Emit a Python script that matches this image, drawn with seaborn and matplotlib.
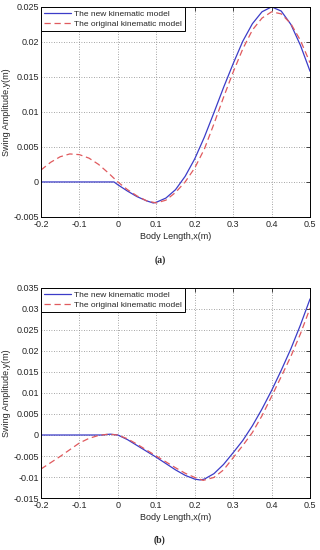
import matplotlib
matplotlib.use("Agg")
import matplotlib.pyplot as plt
import seaborn as sns
import pandas as pd
from matplotlib.ticker import FormatStrFormatter

# ── Panel (a) ─────────────────────────────────────────────────────────────────
a_new_x = [-0.2, -0.1, -0.01, 0.0, 0.025, 0.05, 0.075, 0.092, 0.1, 0.125,
           0.15, 0.175, 0.2, 0.225, 0.25, 0.275, 0.3, 0.325, 0.35, 0.375,
           0.4, 0.425, 0.45, 0.475, 0.5]
a_new_y = [0.0, 0.0, 0.0, -0.0004, -0.0013, -0.0021, -0.0027, -0.003, -0.0029,
           -0.0023, -0.0011, 0.0008, 0.0033, 0.0064, 0.0099, 0.0135, 0.0169,
           0.0201, 0.0226, 0.0243, 0.025, 0.0244, 0.0225, 0.0195, 0.0158]

a_orig_x = [-0.2, -0.175, -0.15, -0.125, -0.1, -0.075, -0.05, -0.025, 0.0,
            0.025, 0.05, 0.075, 0.1, 0.125, 0.15, 0.175, 0.2, 0.225, 0.25,
            0.275, 0.3, 0.325, 0.35, 0.375, 0.4, 0.425, 0.45, 0.475, 0.5]
a_orig_y = [0.0017, 0.0028, 0.0036, 0.004, 0.0039, 0.0034, 0.0025, 0.0013,
            0.0, -0.0011, -0.002, -0.0027, -0.003, -0.0026, -0.0015, 0.0,
            0.002, 0.0047, 0.0083, 0.0121, 0.0157, 0.019, 0.0217, 0.0234,
            0.0243, 0.024, 0.0226, 0.0202, 0.017]

# ── Panel (b) ─────────────────────────────────────────────────────────────────
b_new_x = [-0.2, -0.1, -0.04, -0.02, 0.0, 0.025, 0.05, 0.075, 0.1, 0.125,
           0.15, 0.175, 0.2, 0.214, 0.225, 0.25, 0.275, 0.3, 0.325, 0.35,
           0.375, 0.4, 0.425, 0.45, 0.475, 0.5]
b_new_y = [0.0, 0.0, 0.0, 0.0002, 0.0, -0.0011, -0.0025, -0.0039, -0.0053,
           -0.0068, -0.0083, -0.0096, -0.0105, -0.0107, -0.0105, -0.0092,
           -0.007, -0.0042, -0.0013, 0.0022, 0.0062, 0.0106, 0.0154, 0.0205,
           0.0262, 0.0324]

b_orig_x = [-0.2, -0.175, -0.15, -0.125, -0.1, -0.075, -0.05, -0.025, 0.0,
            0.025, 0.05, 0.075, 0.1, 0.125, 0.15, 0.175, 0.2, 0.222, 0.25,
            0.275, 0.3, 0.325, 0.35, 0.375, 0.4, 0.425, 0.45, 0.475, 0.5]
b_orig_y = [-0.0081, -0.0066, -0.0051, -0.0035, -0.0019, -0.0008, -0.0001,
            0.0002, 0.0, -0.0009, -0.0022, -0.0036, -0.005, -0.0064, -0.0078,
            -0.0091, -0.0101, -0.0108, -0.0101, -0.0083, -0.0054, -0.0025,
            0.0006, 0.0046, 0.0092, 0.0139, 0.0187, 0.0241, 0.0302]

x_ticks = [-0.2, -0.1, 0.0, 0.1, 0.2, 0.3, 0.4, 0.5]
a_y_ticks = [-0.005, 0.0, 0.005, 0.01, 0.015, 0.02, 0.025]
b_y_ticks = [-0.015, -0.01, -0.005, 0.0, 0.005, 0.01, 0.015, 0.02, 0.025,
             0.03, 0.035]

NEW = "The new kinematic model"
ORIG = "The original kinematic model"


def frame(nx, ny, ox, oy):
    return pd.concat([
        pd.DataFrame({"x": nx, "y": ny, "model": NEW}),
        pd.DataFrame({"x": ox, "y": oy, "model": ORIG}),
    ], ignore_index=True)


sns.set_theme(style="white")
plt.rcParams["font.family"] = ["Liberation Sans", "DejaVu Sans"]

fig = plt.figure(figsize=(3.2, 5.5), dpi=100)
ax_a = fig.add_axes([0.128, 0.6055, 0.841, 0.382])
ax_b = fig.add_axes([0.128, 0.0945, 0.841, 0.382])

panels = [
    (ax_a, frame(a_new_x, a_new_y, a_orig_x, a_orig_y), a_y_ticks, "(a)", 0.527),
    (ax_b, frame(b_new_x, b_new_y, b_orig_x, b_orig_y), b_y_ticks, "(b)", 0.018),
]

for ax, df, yt, tag, tag_y in panels:
    sns.lineplot(data=df, x="x", y="y", hue="model", style="model",
                 palette={NEW: "#3c3cc8", ORIG: "#e05a5e"},
                 dashes={NEW: "", ORIG: (5, 3)}, linewidth=0.9,
                 sort=False, ax=ax, legend=True)
    ax.set_xlim(-0.2, 0.5)
    ax.set_ylim(yt[0], yt[-1])
    ax.set_xticks(x_ticks)
    ax.set_yticks(yt)
    ax.xaxis.set_major_formatter(FormatStrFormatter("%g"))
    ax.yaxis.set_major_formatter(FormatStrFormatter("%g"))
    ax.tick_params(direction="in", length=3, width=0.6, labelsize=6.5,
                   pad=1.5, top=True, right=True)
    ax.tick_params(axis="x", pad=2.5)
    ax.grid(True, linestyle=(0, (1, 2)), color="#888888", linewidth=0.6)
    for s in ax.spines.values():
        s.set_color("black")
        s.set_linewidth(0.7)
    ax.set_xlabel("Body Length,x(m)", fontsize=6.5, labelpad=2)
    ax.set_ylabel("Swing Amplitude,y(m)", fontsize=6.5, labelpad=2)
    leg = ax.legend(loc="upper left", fontsize=6, frameon=True, fancybox=False,
                    framealpha=1, edgecolor="black", borderpad=0.35,
                    handlelength=3.2, handletextpad=0.4, labelspacing=0.3,
                    borderaxespad=0.0)
    leg.get_frame().set_linewidth(0.7)
    fig.text(0.5, tag_y, tag, ha="center", va="center", fontsize=7,
             fontweight="bold", family="Liberation Serif")

fig.savefig("out.png", dpi=100)
